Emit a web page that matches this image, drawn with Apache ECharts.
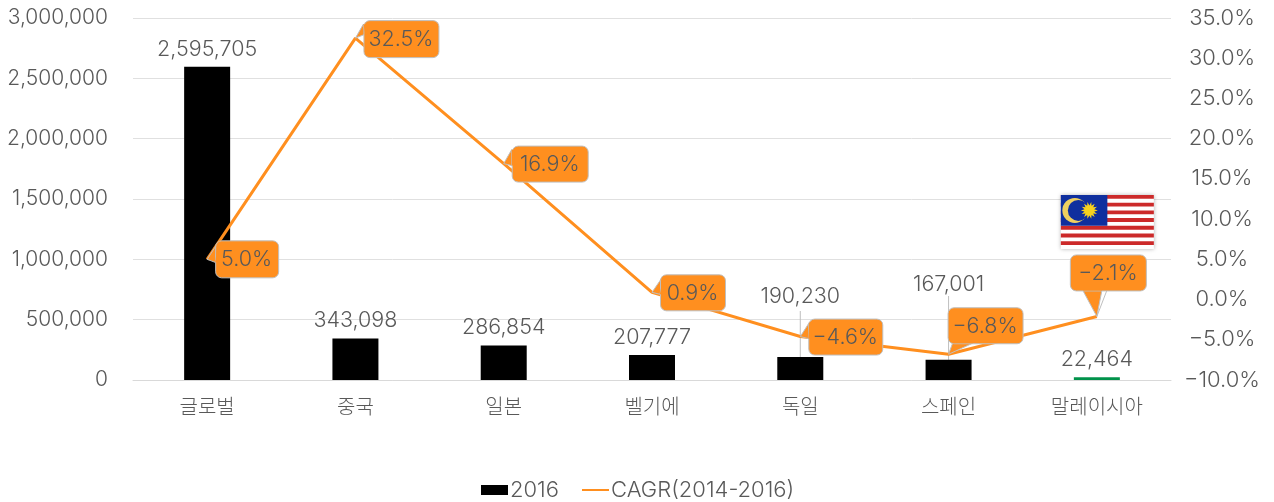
<!DOCTYPE html>
<html><head><meta charset="utf-8">
<style>html,body{margin:0;padding:0;background:#fff}#c{width:1274px;height:502px}</style>
<script src="https://cdn.jsdelivr.net/npm/echarts@6/dist/echarts.min.js"></script>
</head><body><div id="c"></div>
<script>
const categories = ['글로벌','중국','일본','벨기에','독일','스페인','말레이시아'];
const values2016 = [2595705,343098,286854,207777,190230,167001,22464];
const cagr = [5.0,32.5,16.9,0.9,-4.6,-6.8,-2.1];
const leftTicks = {min:0,max:3000000,interval:500000};
const rightTicks = {min:-10,max:35,interval:5};

const FONT = 'Inter,"Noto Sans CJK KR","Noto Sans",sans-serif';
const TXT = '#595959', ORANGE = '#FF8F1F', EDGE = '#BFBFBF';
const fmtPct = v => v.toFixed(1).replace('-', '\u2212') + '%';

// callout geometry, in pixels from the data point: box x,y,w,h and tail base points
const callouts = [
  {box:[8,-19,63,37],  tail:[[11,-17],[8,3]]},
  {box:[8,-18,75,37],  tail:[[8,-14],[10,-4]]},
  {box:[8,-18,76,36],  tail:[[8,-14],[8,2]]},
  {box:[8,-18,65,36],  tail:[[11,-16],[8,2]]},
  {box:[8,-18,74,36],  tail:[[9,-14],[8,2]]},
  {box:[-1,-47,75,36], tail:[[4,-11],[24,-11]]},
  {box:[-27,-62,76,36],tail:[[-14,-26],[5,-26]]}
];
const barLabelOffsets = [0,0,0,0,-43,-58,0];
const leaderTops = [null,null,null,null,311,296,null];

const chart = echarts.init(document.getElementById('c'), null, {renderer:'canvas'});

function flag(cx, cy){
  const W=93,H=54,x0=cx-W/2,y0=cy-H/2, ch=[];
  const sh=H/14;
  ch.push({type:'rect',shape:{x:x0,y:y0,width:W,height:H},style:{fill:'#fff',shadowBlur:4,shadowColor:'rgba(0,0,0,0.3)'}});
  for(let i=0;i<14;i+=2) ch.push({type:'rect',shape:{x:x0,y:y0+i*sh,width:W,height:sh},style:{fill:'#CC2A2A'}});
  const cw=W/2, chh=sh*8;
  ch.push({type:'rect',shape:{x:x0,y:y0,width:cw,height:chh},style:{fill:'#0F2F9E'}});
  const mx=x0+14,my=y0+chh/2;
  ch.push({type:'circle',shape:{cx:mx,cy:my,r:12.5},style:{fill:'#F0D060'}});
  ch.push({type:'circle',shape:{cx:mx+3.5,cy:my,r:10.5},style:{fill:'#0F2F9E'}});
  const sx=x0+28.5,sy=my,pts=[];
  for(let i=0;i<28;i++){const r=i%2?5:8.5,a=i*Math.PI/14;pts.push([sx+r*Math.cos(a),sy+r*Math.sin(a)]);}
  ch.push({type:'polygon',shape:{points:pts},style:{fill:'#F7D21E'}});
  return {type:'group',children:ch};
}

function renderCallout(params, api){
  const i = params.dataIndex;
  const p = api.coord([api.value(0), api.value(1)]);
  const c = callouts[i];
  const [bx,by,bw,bh] = c.box;
  const tip = [p[0],p[1]];
  const a = [p[0]+c.tail[0][0],p[1]+c.tail[0][1]], b=[p[0]+c.tail[1][0],p[1]+c.tail[1][1]];
  const inset = (q)=>{
    const cx=p[0]+bx+bw/2, cy=p[1]+by+bh/2;
    return [q[0]+(cx-q[0])*0.08,q[1]+(cy-q[1])*0.08];
  };
  const children = [
    {type:'polygon',shape:{points:[tip,a,b]},style:{fill:ORANGE,stroke:EDGE,lineWidth:1}},
    {type:'rect',shape:{x:p[0]+bx+.5,y:p[1]+by+.5,width:bw,height:bh,r:6},style:{fill:ORANGE,stroke:EDGE,lineWidth:1}},
    {type:'polygon',shape:{points:[inset(a),inset(b),b,a]},style:{fill:ORANGE}},
    {type:'text',x:p[0]+bx+bw/2,y:p[1]+by+bh/2+1,style:{text:fmtPct(api.value(1)),fill:TXT,font:'300 21.5px '+FONT,align:'center',verticalAlign:'middle'}}
  ];
  if(i===categories.length-1){
    children.unshift({type:'line',shape:{x1:p[0],y1:p[1],x2:p[0]+10,y2:p[1]-26},style:{stroke:EDGE,lineWidth:1}});
    children.push(flag(p[0]+10.5,p[1]-94.5));
  }
  return {type:'group',children};
}

function renderLeader(params, api){
  const i = params.dataIndex;
  if(leaderTops[i]==null) return null;
  const p = api.coord([api.value(0), api.value(1)]);
  return {type:'line',shape:{x1:p[0],y1:leaderTops[i],x2:p[0],y2:p[1]},style:{stroke:EDGE,lineWidth:1}};
}

chart.setOption({
  animation:false,
  backgroundColor:'#fff',
  textStyle:{fontFamily:FONT},
  grid:{left:133,right:103,top:18,bottom:122,containLabel:false},
  legend:{
    data:[{name:'2016',icon:'rect'},{name:'CAGR(2014-2016)',itemStyle:{opacity:0}}],
    left:476,top:474,itemWidth:27,itemHeight:10,itemGap:22,
    textStyle:{color:TXT,fontSize:22,fontWeight:300,fontFamily:FONT,padding:[0,0,0,-3]}
  },
  xAxis:{type:'category',data:categories,
    axisLine:{lineStyle:{color:'#D9D9D9',width:1}},axisTick:{show:false},
    axisLabel:{color:TXT,fontSize:20,fontWeight:300,margin:18,fontFamily:FONT}},
  yAxis:[
    {type:'value',...leftTicks,
     axisLine:{show:false},axisTick:{show:false},
     splitLine:{lineStyle:{color:'#E0E0E0',width:1}},
     axisLabel:{color:TXT,fontSize:21,fontWeight:300,margin:25,padding:[4,0,0,0],fontFamily:FONT,
       formatter:v=>v.toLocaleString('en-US')}},
    {type:'value',...rightTicks,position:'right',
     axisLine:{show:false},axisTick:{show:false},splitLine:{show:false},
     axisLabel:{color:TXT,fontSize:22,fontWeight:300,margin:51,align:'center',padding:[4,0,0,0],fontFamily:FONT,
       formatter:v=>fmtPct(v)}}
  ],
  series:[
    {name:'2016',type:'bar',barWidth:46,z:2,
     itemStyle:{color:'#000'},
     data:values2016.map((v,i)=>({value:v,
        itemStyle:i===6?{color:'#00924A'}:undefined,
        label:{offset:[0,barLabelOffsets[i]]}})),
     label:{show:true,position:'top',distance:7,color:TXT,fontSize:21.5,fontWeight:300,fontFamily:FONT,
        formatter:p=>p.value.toLocaleString('en-US')}},
    {name:'leaders',type:'custom',z:1,renderItem:renderLeader,silent:true,
     data:values2016.map((v,i)=>[i,v])},
    {name:'CAGR(2014-2016)',type:'line',yAxisIndex:1,z:3,symbol:'none',
     lineStyle:{color:ORANGE,width:3},itemStyle:{color:ORANGE},data:cagr},
    {name:'callouts',type:'custom',yAxisIndex:1,z:5,renderItem:renderCallout,silent:true,clip:false,
     data:cagr.map((v,i)=>[i,v])}
  ]
});
</script></body></html>
